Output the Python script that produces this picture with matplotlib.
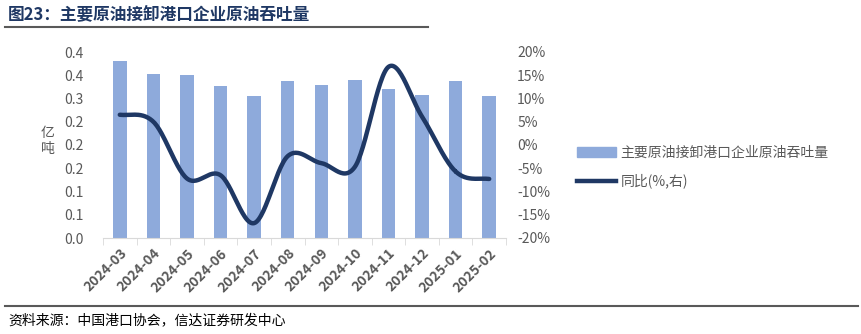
import matplotlib
matplotlib.use("Agg")
import matplotlib.pyplot as plt
import numpy as np
from matplotlib.lines import Line2D
from matplotlib.patches import Patch

plt.rcParams['font.family'] = ['Noto Sans CJK SC', 'DejaVu Sans']

months = ["2024-03", "2024-04", "2024-05", "2024-06", "2024-07", "2024-08",
          "2024-09", "2024-10", "2024-11", "2024-12", "2025-01", "2025-02"]
throughput = [0.381, 0.353, 0.351, 0.327, 0.306, 0.338, 0.329, 0.340, 0.320, 0.307, 0.337, 0.305]
yoy = [6.5, 5.0, -7.2, -6.5, -16.8, -2.4, -3.9, -4.7, 16.8, 6.1, -5.7, -7.3]

bar_color = "#8EAADB"
line_color = "#1F3864"
txt_color = "#595959"

fig = plt.figure(figsize=(8.62, 3.34), dpi=100)
W, H = 862, 334
ax = fig.add_axes([103 / W, 1 - 238 / H, (506 - 103) / W, (238 - 52) / H])
x = np.arange(len(months))
ax.bar(x, throughput, width=0.4, color=bar_color, zorder=2)
ax.set_xlim(-0.5, len(months) - 0.5)
ax.set_ylim(0, 0.4)
ax.set_yticks(np.arange(0, 0.401, 0.05))
ax.set_yticklabels([f"{v:.1f}" for v in np.arange(0, 0.401, 0.05)])
for s in ["top", "left", "right"]:
    ax.spines[s].set_visible(False)
ax.spines["bottom"].set_color("#D9D9D9")
ax.tick_params(axis="y", length=0, labelsize=10, labelcolor=txt_color, pad=14)
ax.set_xticks(x)
ax.set_xticklabels(months, rotation=45, ha="right", rotation_mode="anchor",
                   fontsize=10, color=txt_color, fontweight="bold")
ax.tick_params(axis="x", length=0, pad=6)
ax.set_xticks(np.arange(-0.5, len(months), 1), minor=True)
ax.tick_params(axis="x", which="minor", length=5, color="#D9D9D9")

ax2 = ax.twinx()
ax2.set_ylim(-20, 20)
ax2.set_yticks(np.arange(-20, 21, 5))
ax2.set_yticklabels([f"{v}%" for v in range(-20, 21, 5)])
for s in ["top", "left", "right", "bottom"]:
    ax2.spines[s].set_visible(False)
ax2.tick_params(axis="y", length=0, labelsize=10, labelcolor=txt_color, pad=8)

# Catmull-Rom smoothing through the data points
P = np.array(yoy, dtype=float)
xs, ys = [], []
n = len(P)
for i in range(n - 1):
    p0 = P[i - 1] if i > 0 else P[i]
    p1, p2 = P[i], P[i + 1]
    p3 = P[i + 2] if i + 2 < n else P[i + 1]
    t = np.linspace(0, 1, 30)
    y = 0.5 * ((2 * p1) + (-p0 + p2) * t + (2 * p0 - 5 * p1 + 4 * p2 - p3) * t ** 2
               + (-p0 + 3 * p1 - 3 * p2 + p3) * t ** 3)
    xs.extend(i + t)
    ys.extend(y)
ax2.plot(xs, ys, color=line_color, lw=3.2, solid_capstyle="round", zorder=3)

fig.text(48 / W, 1 - 133 / H, "亿", ha="center", va="center", fontsize=10, color=txt_color)
fig.text(48 / W, 1 - 149 / H, "吨", ha="center", va="center", fontsize=10, color=txt_color)

handles = [Patch(color=bar_color), Line2D([0], [0], color=line_color, lw=3.2)]
labels = ["主要原油接卸港口企业原油吞吐量", "同比(%,右)"]
fig.legend(handles, labels, loc="center left", bbox_to_anchor=(565 / W, 1 - 167 / H),
           frameon=False, fontsize=10, handlelength=2.8, labelspacing=1.0,
           handletextpad=0.3, labelcolor=txt_color)

fig.text(8 / W, 1 - 14 / H, "图23：主要原油接卸港口企业原油吞吐量", fontsize=12,
         fontweight="bold", color="#1F3864", va="center", ha="left")
fig.add_artist(Line2D([5 / W, 428 / W], [1 - 27 / H, 1 - 27 / H], color="#595959", lw=1.5))
fig.add_artist(Line2D([5 / W, 858 / W], [1 - 306 / H, 1 - 306 / H], color="#595959", lw=1.5))
fig.text(8 / W, 1 - 320 / H, "资料来源：中国港口协会，信达证券研发中心", fontsize=10,
         color="black", va="center", ha="left", style="italic")

fig.savefig("out.png", dpi=100)
